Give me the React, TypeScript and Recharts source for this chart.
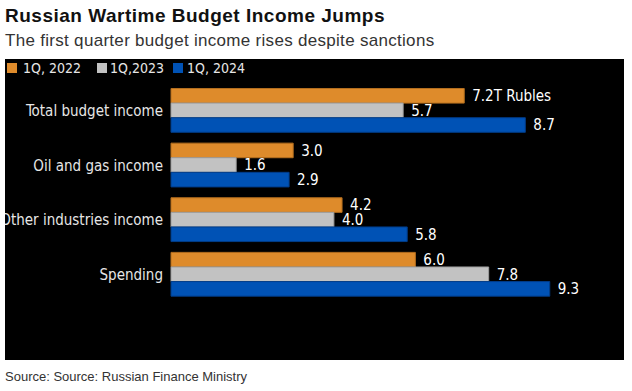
import React from "react";
import { BarChart, Bar, XAxis, YAxis, LabelList } from "recharts";

const categories = ["Total budget income", "Oil and gas income", "Other industries income", "Spending"];
const q2022 = [7.2, 3.0, 4.2, 6.0];
const q2023 = [5.7, 1.6, 4.0, 7.8];
const q2024 = [8.7, 2.9, 5.8, 9.3];

const seriesNames = ["1Q, 2022", "1Q,2023", "1Q, 2024"];
const colors = ["#DE8B2B", "#C2C2C2", "#0052B5"];
const strokes = ["#B46E1E", "#9E9E9E", "#003C88"];

const data = categories.map((name, i) => ({
  name,
  q2022: q2022[i],
  q2023: q2023[i],
  q2024: q2024[i],
  l2022: i === 0 ? `${q2022[i].toFixed(1)}T Rubles` : q2022[i].toFixed(1),
  l2023: q2023[i].toFixed(1),
  l2024: q2024[i].toFixed(1),
}));

const chartFont = "'DejaVu Sans Condensed', 'DejaVu Sans', sans-serif";
// legend item x positions inside the black panel (square, text)
const legendX = [[2, 18], [92, 105], [168, 182]];

export default function App() {
  const keys = ["q2022", "q2023", "q2024"];
  const labelKeys = ["l2022", "l2023", "l2024"];
  return (
    <div style={{ position: "absolute", left: 0, top: 0, width: 632, height: 391, background: "#fff", fontFamily: "'Liberation Sans', Arial, sans-serif" }}>
      <div style={{ position: "absolute", left: 5, top: 6, fontSize: 19, lineHeight: 1, letterSpacing: 0.5, fontWeight: 700, color: "#111", whiteSpace: "nowrap" }}>
        Russian Wartime Budget Income Jumps
      </div>
      <div style={{ position: "absolute", left: 5, top: 32, fontSize: 17, lineHeight: 1, letterSpacing: 0.3, color: "#333", whiteSpace: "nowrap" }}>
        The first quarter budget income rises despite sanctions
      </div>

      {/* black panel */}
      <div style={{ position: "absolute", left: 5, top: 59, width: 619, height: 301, background: "#000" }}>
        {seriesNames.map((s, i) => (
          <React.Fragment key={s}>
            <span style={{ position: "absolute", left: legendX[i][0], top: 4, width: 10, height: 10, background: colors[i] }} />
            <span style={{ position: "absolute", left: legendX[i][1], top: 1, fontFamily: chartFont, fontSize: 14, lineHeight: "16px", color: "#e6e6e6", whiteSpace: "nowrap" }}>{s}</span>
          </React.Fragment>
        ))}
        <BarChart
          width={619}
          height={301}
          data={data}
          layout="vertical"
          margin={{ top: 24.5, right: 5, bottom: 58, left: 0 }}
          barSize={14.6}
          barGap={0}
          style={{ position: "absolute", left: 0, top: 0 }}
        >
          <XAxis type="number" domain={[0, 11]} hide />
          <YAxis
            type="category"
            dataKey="name"
            width={166}
            axisLine={false}
            tickLine={false}
            interval={0}
            tick={{ fill: "#e6e6e6", fontSize: 15, fontFamily: chartFont }}
          />
          {keys.map((k, i) => (
            <Bar key={k} dataKey={k} name={seriesNames[i]} fill={colors[i]} stroke={strokes[i]} strokeWidth={1} isAnimationActive={false}>
              <LabelList dataKey={labelKeys[i]} position="right" offset={8} fill="#fff" fontSize={15} fontFamily={chartFont} />
            </Bar>
          ))}
        </BarChart>
      </div>

      <div style={{ position: "absolute", left: 5, top: 370, fontSize: 13, lineHeight: 1, color: "#333", whiteSpace: "nowrap" }}>
        Source: Source: Russian Finance Ministry
      </div>
    </div>
  );
}
